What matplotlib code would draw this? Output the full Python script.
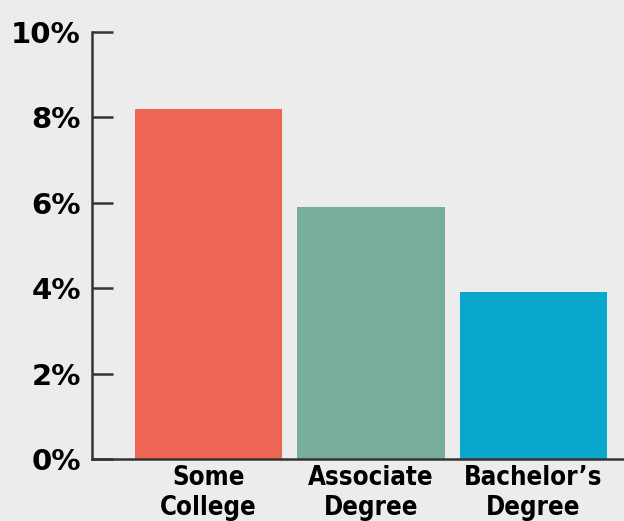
import matplotlib
matplotlib.use("Agg")
import matplotlib.pyplot as plt

categories = ["Some\nCollege", "Associate\nDegree", "Bachelor\u2019s\nDegree"]
values = [8.2, 5.9, 3.9]
colors = ["#ee6455", "#78ae99", "#08a7cb"]
yticks = [0, 2, 4, 6, 8, 10]
yticklabels = ["0%", "2%", "4%", "6%", "8%", "10%"]

bg = "#ececec"
fig = plt.figure(figsize=(6.24, 5.21), dpi=100, facecolor=bg)
ax = fig.add_axes([92/624, 62/521, 1 - 92/624, (459-32)/521])
ax.set_facecolor(bg)

x = list(range(len(categories)))
ax.bar(x, values, width=0.907, color=colors, zorder=2)

ax.set_xlim(-0.719, 2.559)
ax.set_ylim(0, 10)
ax.set_yticks(yticks)
ax.set_yticklabels(yticklabels, fontsize=21, fontweight="bold",
                   family=["DejaVu Sans"])
ax.set_xticks(x)
ax.set_xticklabels(categories, fontsize=18.5, fontweight="bold",
                   family=["DejaVu Sans"], fontstretch="condensed",
                   linespacing=1.2)

for s in ["top", "right"]:
    ax.spines[s].set_visible(False)
for s in ["left", "bottom"]:
    ax.spines[s].set_linewidth(1.8)
    ax.spines[s].set_color("#333333")

ax.tick_params(axis="y", direction="in", length=15, width=1.8, color="#333333", pad=8)
ax.tick_params(axis="x", length=0, pad=4)

fig.savefig("out.png", dpi=100, facecolor=bg)
